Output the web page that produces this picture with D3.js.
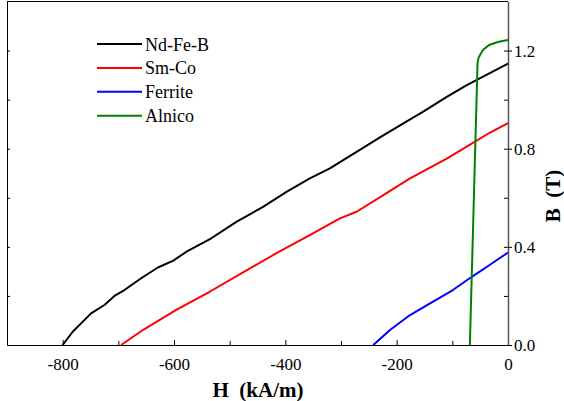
<!DOCTYPE html>
<html>
<head>
<meta charset="utf-8">
<script src="https://cdn.jsdelivr.net/npm/d3@7"></script>
<style>
  body { margin: 0; background: #fff; }
</style>
</head>
<body>
<div id="chart"></div>
<script>
// Demagnetisation curves: H in kA/m, B in T
var seriesNames = ["Nd-Fe-B", "Sm-Co", "Ferrite", "Alnico"];
var seriesColors = ["#000000", "#ff0000", "#0000ff", "#008000"];

var ndfebH = [-800, -782, -767, -749, -725, -707, -689, -659, -629, -602, -575, -533, -488, -440, -398, -356, -320, -272, -230, -194, -153, -110, -74, 0];
var ndfebB = [0, 0.054, 0.088, 0.129, 0.163, 0.200, 0.224, 0.272, 0.316, 0.343, 0.384, 0.435, 0.502, 0.563, 0.624, 0.679, 0.720, 0.787, 0.846, 0.895, 0.950, 1.011, 1.059, 1.147];

var smcoH = [-695, -656, -596, -536, -476, -416, -356, -302, -272, -224, -176, -110, -60, -33, 0];
var smcoB = [0, 0.061, 0.143, 0.217, 0.296, 0.374, 0.448, 0.516, 0.543, 0.611, 0.679, 0.760, 0.828, 0.865, 0.904];

var ferriteH = [-242, -212, -176, -140, -99, -65, -33, 0];
var ferriteB = [0, 0.061, 0.122, 0.170, 0.224, 0.278, 0.326, 0.377];

var alnicoH = [-68.5, -54.7, -53, -50.5, -45, -38.5, -32.5, -23.6, -14.6, 0];
var alnicoB = [0, 1.149, 1.169, 1.181, 1.202, 1.215, 1.224, 1.231, 1.237, 1.243];

// axis ticks
var xTickValues = [-800, -600, -400, -200, 0];
var xMinorValues = [-700, -500, -300, -100];
var yTickValues = [0, 0.4, 0.8, 1.2];
var yMinorValues = [0.2, 0.4, 0.6, 0.8, 1.0, 1.2];

var serif = "'Liberation Serif', 'Times New Roman', Tinos, 'DejaVu Serif', serif";

var svgWidth = 564;
var svgHeight = 401;

var chartMargin = { top: 1.5, right: 56, bottom: 56, left: 7 };
var chartWidth = svgWidth - chartMargin.left - chartMargin.right;
var chartHeight = svgHeight - chartMargin.top - chartMargin.bottom;

var svg = d3.select("#chart")
  .append("svg")
  .attr("width", svgWidth)
  .attr("height", svgHeight);

var chartGroup = svg.append("g")
  .attr("transform", `translate(${chartMargin.left}, ${chartMargin.top})`);

var xScale = d3.scaleLinear().domain([-900, 0]).range([0, chartWidth]);
var yScale = d3.scaleLinear().domain([0, 1.4]).range([chartHeight, 0]);

// bottom axis, ticks pointing in
var bottomAxis = d3.axisBottom(xScale)
  .tickValues(xTickValues)
  .tickFormat(d => String(d))
  .tickSizeInner(-5).tickSizeOuter(0).tickPadding(13);

var xAxisG = chartGroup.append("g")
  .attr("transform", `translate(0, ${chartHeight})`)
  .call(bottomAxis);
xAxisG.selectAll("text").style("font-size", "17px").style("font-family", serif);

chartGroup.append("g")
  .attr("transform", `translate(0, ${chartHeight})`)
  .call(d3.axisBottom(xScale).tickValues(xMinorValues).tickFormat("").tickSizeInner(-4).tickSizeOuter(0))
  .select(".domain").remove();

// left axis: no labels, small ticks inside
chartGroup.append("g")
  .call(d3.axisLeft(yScale).tickValues(yMinorValues).tickFormat("").tickSizeInner(-3).tickSizeOuter(0));

// top border
chartGroup.append("line")
  .attr("x1", 0).attr("x2", chartWidth)
  .attr("y1", 0).attr("y2", 0)
  .attr("stroke", "#000");

// right axis: minor ticks inside, labelled ticks outside
chartGroup.append("g")
  .attr("transform", `translate(${chartWidth}, 0)`)
  .call(d3.axisRight(yScale).tickValues(yMinorValues).tickFormat("").tickSizeInner(-4).tickSizeOuter(0));

var rightAxis = d3.axisRight(yScale)
  .tickValues(yTickValues)
  .tickFormat(d3.format(".1f"))
  .tickSizeInner(4).tickSizeOuter(0).tickPadding(2);

var yAxisG = chartGroup.append("g")
  .attr("transform", `translate(${chartWidth}, 0)`)
  .call(rightAxis);
yAxisG.selectAll("text").style("font-size", "17px").style("font-family", serif);
yAxisG.select(".domain").attr("stroke", "#555").attr("stroke-width", 1.5);

// curves
var allH = [ndfebH, smcoH, ferriteH, alnicoH];
var allB = [ndfebB, smcoB, ferriteB, alnicoB];

var line = d3.line()
  .x(d => xScale(d[0]))
  .y(d => yScale(d[1]));

allH.forEach(function(hs, i) {
  var pts = hs.map((h, j) => [h, allB[i][j]]);
  chartGroup.append("path")
    .datum(pts)
    .attr("d", line)
    .attr("fill", "none")
    .attr("stroke", seriesColors[i])
    .attr("stroke-width", 2)
    .attr("stroke-linejoin", "round");
});

// legend
var legend = svg.append("g").attr("transform", "translate(97, 44)");
seriesNames.forEach(function(name, i) {
  var row = legend.append("g").attr("transform", `translate(0, ${i * 23.9})`);
  row.append("line")
    .attr("x1", 0).attr("x2", 45)
    .attr("y1", 0).attr("y2", 0)
    .attr("stroke", seriesColors[i])
    .attr("stroke-width", 2);
  row.append("text")
    .attr("x", 48)
    .attr("y", 6.5)
    .style("font-size", "18px")
    .style("font-family", serif)
    .text(name);
});

// axis titles
svg.append("text")
  .attr("x", 258)
  .attr("y", 397)
  .attr("text-anchor", "middle")
  .style("font-size", "21px")
  .style("font-weight", "bold")
  .style("font-family", serif)
  .style("white-space", "pre")
  .text("H  (kA/m)");

svg.append("text")
  .attr("transform", "translate(560, 196) rotate(-90)")
  .attr("text-anchor", "middle")
  .style("font-size", "21px")
  .style("font-weight", "bold")
  .style("font-family", serif)
  .style("white-space", "pre")
  .text("B  (T)");
</script>
</body>
</html>
